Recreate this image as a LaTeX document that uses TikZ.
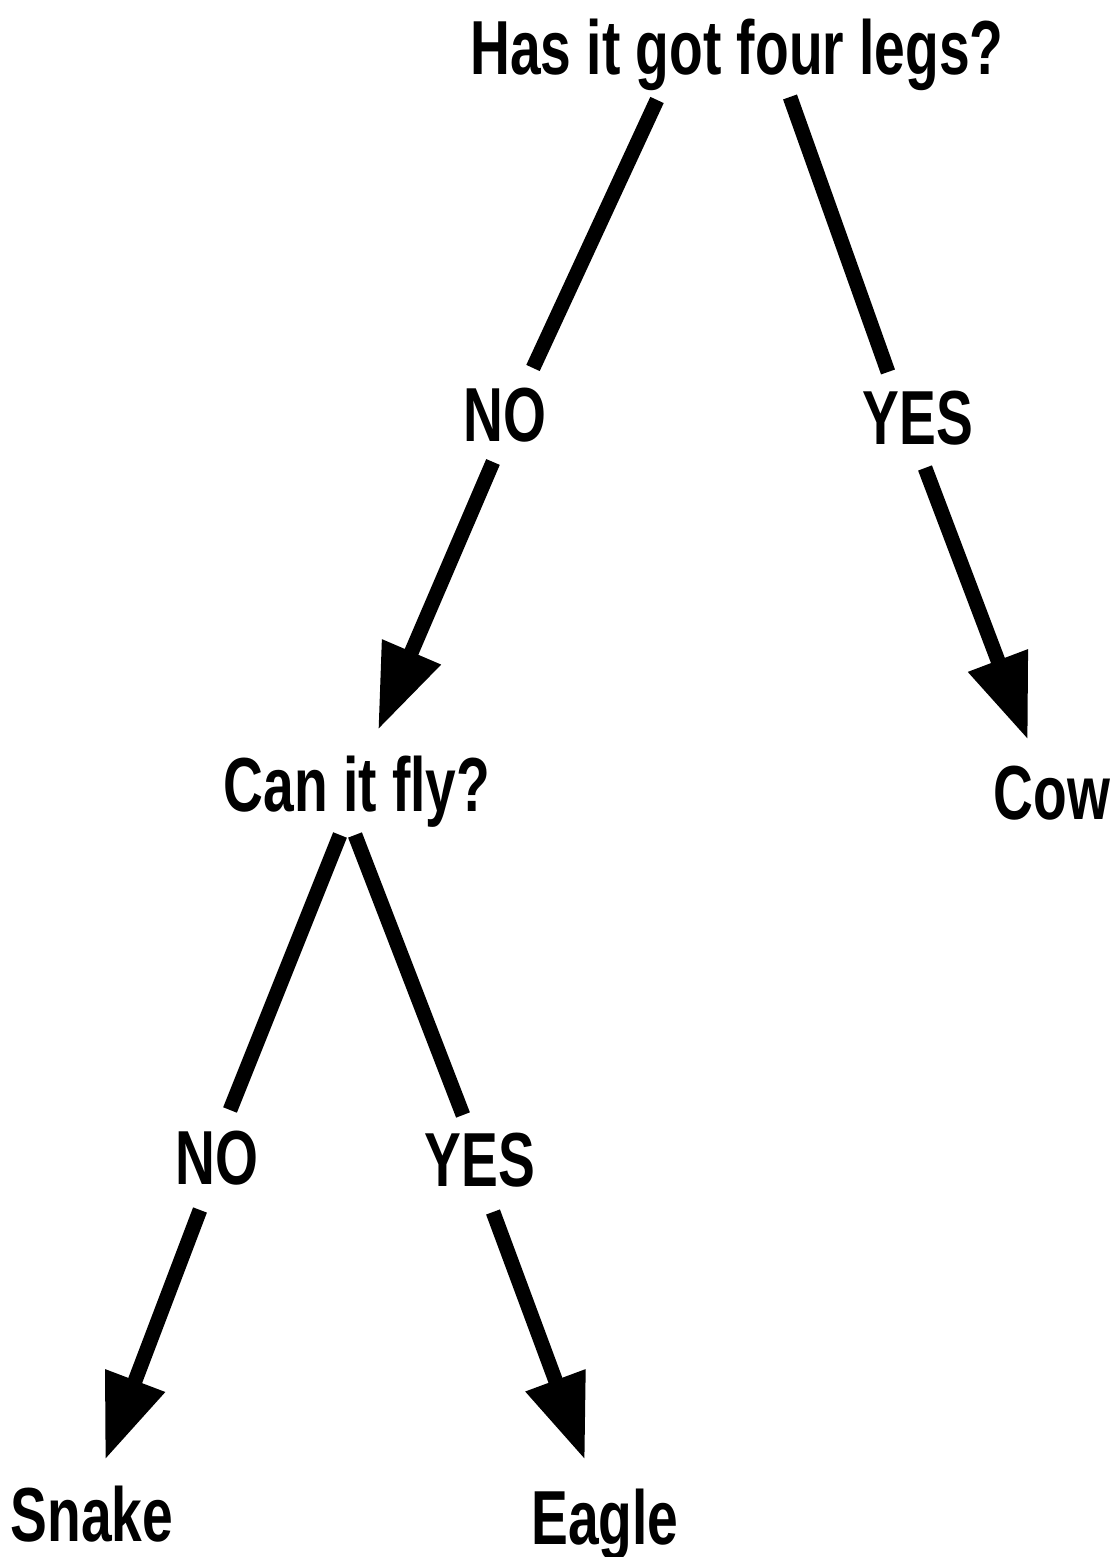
\documentclass[tikz,border=0pt]{standalone}
\usepackage{fontspec}
\setmainfont{Liberation Sans}[FakeStretch=0.72]
\usepackage{tikz}
\usetikzlibrary{arrows.meta,positioning}

\begin{document}
\begin{tikzpicture}[
    label/.style={inner sep=0pt, anchor=base, font=\fontsize{21.8}{26}\selectfont\bfseries},
    branch/.style={line width=4.2pt},
    arrow/.style={line width=4.2pt, -{Triangle[length=8.5mm, width=6mm]}}
]
\useasboundingbox (0,0) rectangle (11.10,15.57);

% Questions
\node [label] (legs) at (7.37,14.82) {Has it got four legs?};
\node [label] (fly) at (3.57,7.45) {Can it fly?};

% Answers
\node [label] (no_legs) at (5.05,11.15) {NO};
\node [label] (yes_legs) at (9.18,11.12) {YES};
\node [label] (no_fly) at (2.17,3.72) {NO};
\node [label] (yes_fly) at (4.80,3.70) {YES};

% Animals
\node [label] (cow) at (10.52,7.37) {Cow};
\node [label] (snake) at (0.92,0.15) {Snake};
\node [label] (eagle) at (6.05,0.13) {Eagle};

% Branches
\draw [branch] ([shift={(-0.80,-0.25)}]legs.base) -- ([shift={(0.28,0.74)}]no_legs.base);
\draw [branch] ([shift={(0.53,-0.22)}]legs.base) -- ([shift={(-0.30,0.73)}]yes_legs.base);
\draw [branch] ([shift={(-0.17,-0.23)}]fly.base) -- ([shift={(0.13,0.75)}]no_fly.base);
\draw [branch] ([shift={(-0.02,-0.23)}]fly.base) -- ([shift={(-0.17,0.72)}]yes_fly.base);

% Arrows
\draw [arrow] ([shift={(-0.12,-0.20)}]no_legs.base) -- ([shift={(0.21,0.82)}]fly.base);
\draw [arrow] ([shift={(0.07,-0.23)}]yes_legs.base) -- ([shift={(-0.24,0.80)}]cow.base);
\draw [arrow] ([shift={(-0.17,-0.25)}]no_fly.base) -- ([shift={(0.13,0.82)}]snake.base);
\draw [arrow] ([shift={(0.13,-0.25)}]yes_fly.base) -- ([shift={(-0.20,0.84)}]eagle.base);

\end{tikzpicture}
\end{document}
